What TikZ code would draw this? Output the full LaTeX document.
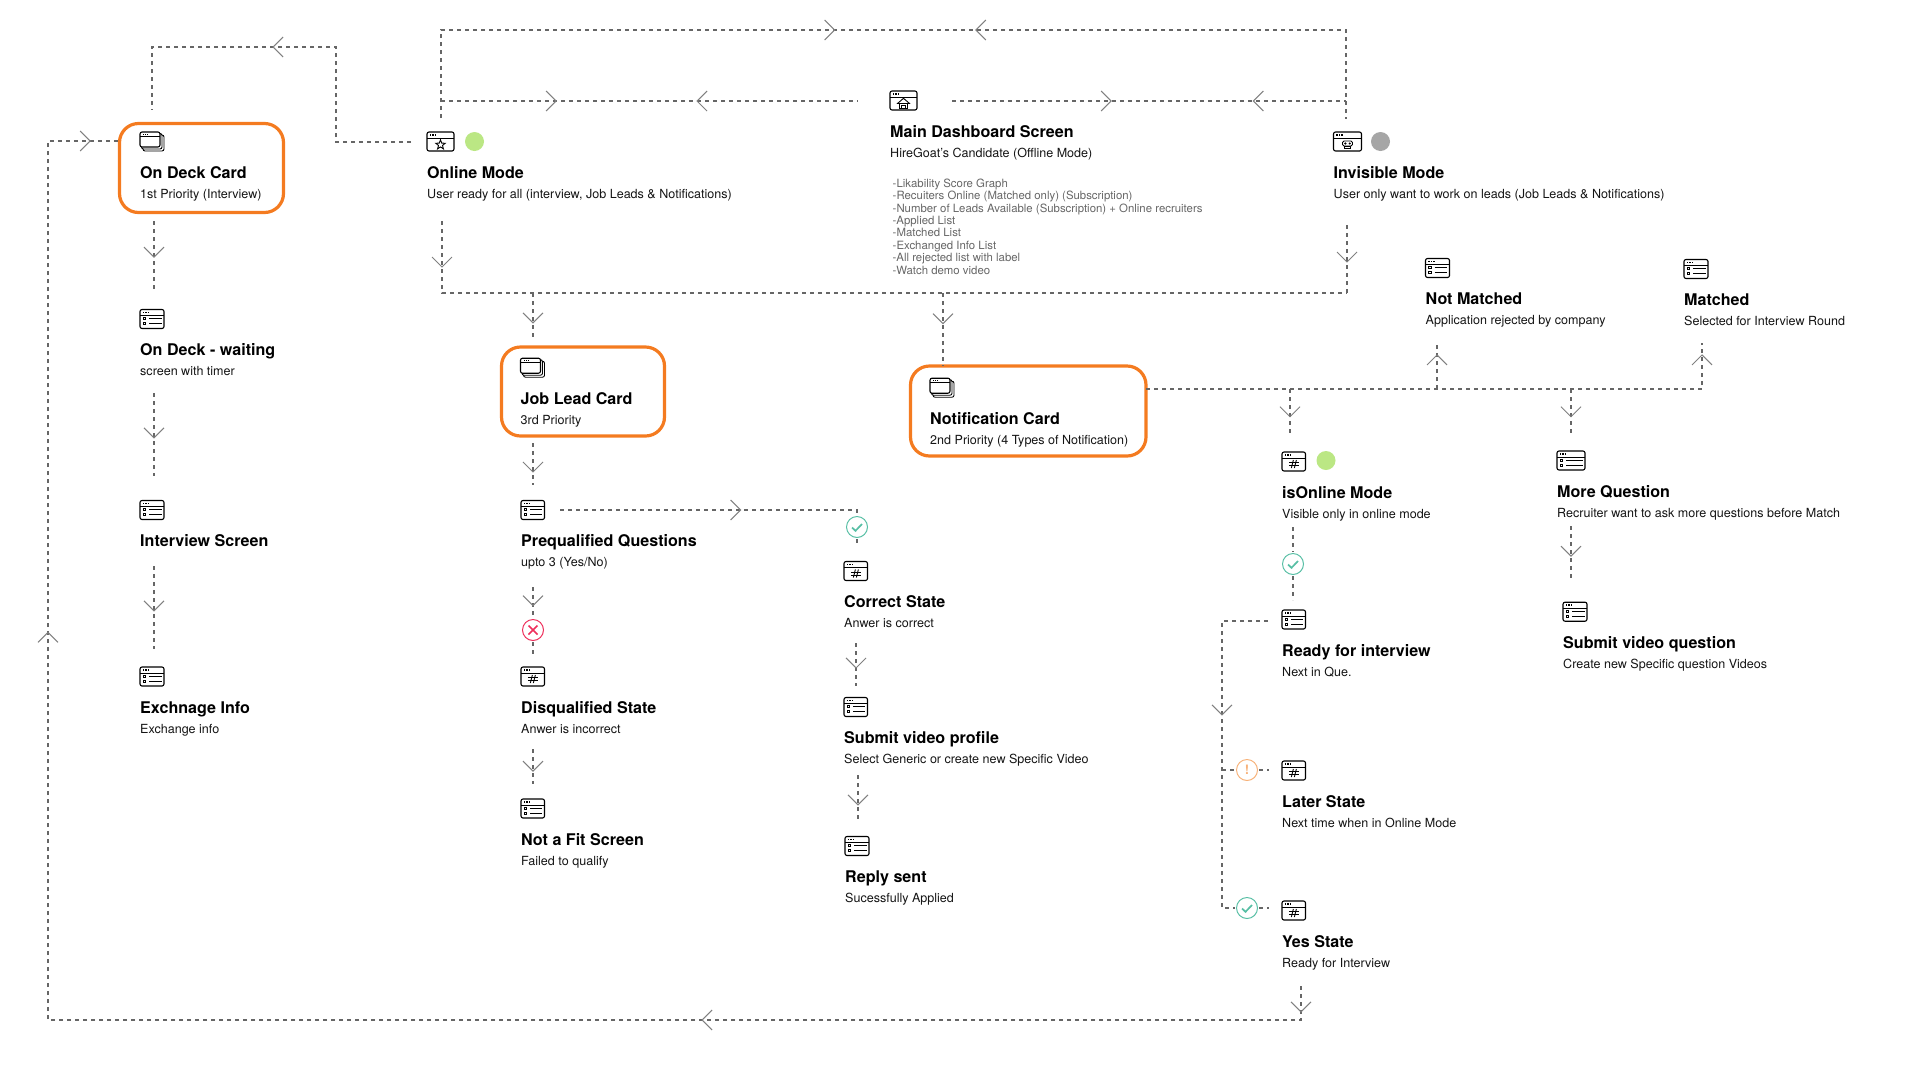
\documentclass[tikz,border=0pt]{standalone}
\usepackage{fontspec}
\setmainfont{TeX Gyre Heros}
\usetikzlibrary{calc}
\definecolor{flowgray}{HTML}{666666}
\definecolor{tipgray}{HTML}{808080}
\definecolor{cardorange}{HTML}{F47B20}
\definecolor{onlinegreen}{HTML}{BBE784}
\definecolor{offgray}{HTML}{A6A6A6}
\definecolor{okteal}{HTML}{58BFA5}
\definecolor{badred}{HTML}{EE2F5B}
\definecolor{warnorange}{HTML}{F7B27A}
\definecolor{notegray}{HTML}{666666}
\tikzset{
  flow/.style={draw=flowgray, line width=1.4pt, dash pattern=on 4pt off 4pt},
  tipline/.style={solid, draw=tipgray, line width=1pt},
  tipat/.style={pos=#1, sloped, allow upside down},
  chevron/.pic={\draw[tipline] (-10,-10) -- (0,0) -- (-10,10);},
  chevronback/.pic={\draw[tipline] (10,-10) -- (0,0) -- (10,10);},
  cardbox/.style={draw=cardorange, line width=3.2pt, rounded corners=19pt, inner sep=0pt, outer sep=0pt, anchor=north west},
  winbox/.style={line width=1.1pt, rounded corners=2pt, minimum height=19pt, inner sep=0pt, outer sep=0pt},
  iconlist/.style={winbox, draw},
  iconhash/.style={winbox, draw},
  iconstar/.style={winbox, draw},
  iconhome/.style={winbox, draw},
  iconskull/.style={winbox, draw},
  iconstack/.style={winbox},
  glyph/.style={line width=.9pt},
  cardtitle/.style={font=\fontsize{16.1}{19}\selectfont\bfseries, text=black, inner sep=0pt, anchor=base west},
  cardsub/.style={font=\fontsize{12.55}{15}\selectfont, text=black!92, inner sep=0pt, anchor=base west},
  notelist/.style={font=\fontsize{11.4}{12.4}\selectfont, text=notegray, inner sep=0pt, anchor=north west, align=left},
  lamp/.style={circle, minimum size=19pt, inner sep=0pt, outer sep=0pt},
  statering/.style={circle, draw, line width=1pt, minimum size=21pt, inner sep=0pt, outer sep=1.5pt},
}
\def\winhead#1{
  \draw[glyph] ($(#1.north west)+(0,6)$) -- ($(#1.north east)+(0,6)$);
  \foreach \d in {2.5,5,7.5} \fill ($(#1.north west)+(\d,2)$) rectangle +(1.6,1.6);
}
\def\glyphlist#1{
  \winhead{#1}
  \draw[glyph] ($(#1.west)+(3.3,-1.5)$) rectangle +(2.6,2.4);
  \draw[glyph] ($(#1.west)+(3.3,3.5)$) rectangle +(2.6,2.4);
  \draw[glyph] ($(#1.west)+(9,-.3)$) -- ($(#1.east)+(-2.5,-.3)$);
  \draw[glyph] ($(#1.west)+(9,4.7)$) -- ($(#1.east)+(-2.5,4.7)$);
}
\def\glyphhash#1{
  \winhead{#1}
  \draw[glyph] ($(#1.center)+(-5,1.4)$) -- +(10,0);
  \draw[glyph] ($(#1.center)+(-5,4)$) -- +(10,0);
  \draw[glyph] ($(#1.center)+(-2.4,6.5)$) -- +(2,-8);
  \draw[glyph] ($(#1.center)+(.6,6.5)$) -- +(2,-8);
}
\def\glyphstar#1{
  \winhead{#1}
  \draw[glyph, shift={($(#1.center)+(0,3.3)$)}] (-90:5) -- (-54:2.1) -- (-18:5) -- (18:2.1) -- (54:5) -- (90:2.1) -- (126:5) -- (162:2.1) -- (198:5) -- (234:2.1) -- cycle;
}
\def\glyphhome#1{
  \winhead{#1}
  \draw[glyph] ($(#1.center)+(-6,3)$) -- ($(#1.center)+(0,-2.2)$) -- ($(#1.center)+(6,3)$) -- cycle;
  \draw[glyph] ($(#1.center)+(-4.2,3)$) rectangle ($(#1.center)+(4.2,8)$);
  \draw[glyph] ($(#1.center)+(-1.6,4.8)$) rectangle ($(#1.center)+(1.6,8)$);
}
\def\glyphskull#1{
  \winhead{#1}
  \draw[glyph, rounded corners=1.5pt] ($(#1.center)+(-5,-.5)$) rectangle ($(#1.center)+(5,4.5)$);
  \draw[glyph] ($(#1.center)+(-3,4.5)$) rectangle ($(#1.center)+(3,7)$);
  \fill ($(#1.center)+(-2.2,2)$) circle (1.2);
  \fill ($(#1.center)+(2.2,2)$) circle (1.2);
}
\def\glyphstack#1{
  \draw[line width=1.1pt, rounded corners=2pt] ($(#1.north west)$) rectangle ($(#1.north west)+(20,15)$);
  \draw[glyph] ($(#1.north west)+(0,4.5)$) -- ($(#1.north west)+(20,4.5)$);
  \foreach \d in {3,5,7} \fill ($(#1.north west)+(\d,2)$) rectangle +(1,1);
  \draw[glyph, rounded corners=2pt] ($(#1.north west)+(20,1.5)$) -- ($(#1.north west)+(22,1.5)$) -- ($(#1.north west)+(22,17)$) -- ($(#1.north west)+(1.5,17)$) -- ($(#1.north west)+(1.5,15)$);
  \draw[glyph, rounded corners=2pt] ($(#1.north west)+(22,3)$) -- ($(#1.north west)+(24,3)$) -- ($(#1.north west)+(24,19)$) -- ($(#1.north west)+(3,19)$) -- ($(#1.north west)+(3,17)$);
}
\def\screen(#1,#2,#3,#4,#5,#6){
  \node[icon#5, minimum width=#4pt, anchor=west] (#1_ic) at (#2,#3) {};
  \csname glyph#5\endcsname{#1_ic}
  \node[cardtitle] (#1_tt) at (#2,#3+36.5) {#6};
}
\def\subline(#1,#2){
  \node[cardsub] (#1_sb) at ($(#1_tt.base west)+(0,20)$) {#2};
}
\def\okmark#1{
  \draw[okteal, line width=1.7pt] ($(#1)+(-5,.5)$) -- ($(#1)+(-1.5,3.8)$) -- ($(#1)+(5,-3)$);
}
\begin{document}
\begin{tikzpicture}[x=1pt,y=-1pt]
\path[use as bounding box] (0,0) rectangle (1920,1080);
\node[cardbox, minimum width=164pt, minimum height=89pt] (deck) at (119.5,123.5) {};
\node[cardbox, minimum width=163pt, minimum height=89pt] (jobcard) at (501.5,347) {};
\node[cardbox, minimum width=235.5pt, minimum height=90pt] (notif) at (910.5,366) {};
\screen(deck,140,141.5,24,stack,On Deck Card)
\subline(deck,{1st Priority (Interview)})
\screen(wait,140,319,24,list,On Deck - waiting)
\subline(wait,screen with timer)
\screen(inter,140,510,24,list,Interview Screen)
\screen(exch,140,676.5,24,list,Exchnage Info)
\subline(exch,Exchange info)
\screen(online,427,141.5,27,star,Online Mode)
\subline(online,{User ready for all (interview, Job Leads \& Notifications)})
\node[lamp, fill=onlinegreen] (online_lamp) at (474.5,141.5) {};
\screen(main,890,100.5,27,home,Main Dashboard Screen)
\subline(main,{HireGoat's Candidate (Offline Mode)})
\node[notelist] (main_notes) at (892.5,178.5) {-Likability Score Graph\\-Recuiters Online (Matched only) (Subscription)\\-Number of Leads Available (Subscription) + Online recruiters\\-Applied List\\-Matched List\\-Exchanged Info List\\-All rejected list with label\\-Watch demo video};
\screen(invis,1333.5,141.5,28,skull,Invisible Mode)
\subline(invis,{User only want to work on leads (Job Leads \& Notifications)})
\node[lamp, fill=offgray] (invis_lamp) at (1380.5,141.5) {};
\screen(jobc,520.5,367.7,24,stack,Job Lead Card)
\subline(jobc,3rd Priority)
\screen(preq,521,510,23.5,list,Prequalified Questions)
\subline(preq,{upto 3 (Yes/No)})
\screen(disq,521,676.5,23.5,hash,Disqualified State)
\subline(disq,Anwer is incorrect)
\screen(nofit,521,808.5,23.5,list,Not a Fit Screen)
\subline(nofit,Failed to qualify)
\screen(corr,844,571,23.5,hash,Correct State)
\subline(corr,Anwer is correct)
\screen(subvid,844,707,23.5,list,Submit video profile)
\subline(subvid,Select Generic or create new Specific Video)
\screen(reply,845,846,24,list,Reply sent)
\subline(reply,Sucessfully Applied)
\screen(ncard,930,387.7,24,stack,Notification Card)
\subline(ncard,{2nd Priority (4 Types of Notification)})
\screen(isol,1282,461.5,23.5,hash,isOnline Mode)
\subline(isol,Visible only in online mode)
\node[lamp, fill=onlinegreen] (isol_lamp) at (1326,460.5) {};
\screen(ready,1282,619.5,23.5,list,Ready for interview)
\subline(ready,Next in Que.)
\screen(later,1282,770.5,23.5,hash,Later State)
\subline(later,Next time when in Online Mode)
\screen(yes,1282,910.5,23.5,hash,Yes State)
\subline(yes,Ready for Interview)
\screen(notm,1425.5,268,24,list,Not Matched)
\subline(notm,Application rejected by company)
\screen(match,1684,269,24,list,Matched)
\subline(match,Selected for Interview Round)
\screen(more,1557,460.5,28,list,More Question)
\subline(more,Recruiter want to ask more questions before Match)
\screen(subq,1563,611.7,24,list,Submit video question)
\subline(subq,Create new Specific question Videos)
\node[statering, draw=okteal] (corr_ok) at (857,527) {};
\okmark{corr_ok}
\node[statering, draw=badred] (disq_no) at (533,630) {};
\draw[badred, line width=1.7pt] ($(disq_no)+(-4.5,-4.5)$) -- ($(disq_no)+(4.5,4.5)$) ($(disq_no)+(-4.5,4.5)$) -- ($(disq_no)+(4.5,-4.5)$);
\node[statering, draw=okteal] (isol_ok) at (1293,564) {};
\okmark{isol_ok}
\node[statering, draw=warnorange, text=warnorange, font=\bfseries\fontsize{13}{13}\selectfont] (later_warn) at (1247,770) {!};
\node[statering, draw=okteal] (yes_ok) at (1247,908) {};
\okmark{yes_ok}
\coordinate (on_w) at (411,142);
\coordinate (on_a) at (336,142);
\coordinate (on_b) at (336,47);
\coordinate (on_c) at (152,47);
\coordinate (on_d) at (152,110);
\draw[flow] (on_w) -- (on_a) -- (on_b) -- (on_c) pic[tipat=.342]{chevron} -- (on_d);
\coordinate (on_up) at (441,118);
\coordinate (top_l) at (441,30);
\coordinate (top_r) at (1346,30);
\coordinate (inv_up) at (1346,119);
\draw[flow] (on_up) -- (top_l) -- (top_r) pic[tipat=.435]{chevron} pic[tipat=.591]{chevronback} -- (inv_up);
\coordinate (mid_l) at (441,101);
\coordinate (mid_a) at (858,101);
\coordinate (mid_b) at (952,101);
\coordinate (mid_r) at (1346,101);
\draw[flow] (mid_l) -- (mid_a) pic[tipat=.276]{chevron} pic[tipat=.614]{chevronback};
\draw[flow] (mid_b) -- (mid_r) pic[tipat=.404]{chevron} pic[tipat=.765]{chevronback};
\coordinate (on_dn) at (442,221);
\coordinate (low_l) at (442,293);
\coordinate (low_r) at (1347,293);
\coordinate (inv_dn) at (1347,225);
\draw[flow] (on_dn) -- (low_l) pic[tipat=.639]{chevron} -- (low_r);
\draw[flow] (inv_dn) -- (low_r) pic[tipat=.544]{chevron};
\coordinate (job_a) at (533,293);
\coordinate (job_b) at (533,339);
\draw[flow] (job_a) -- (job_b) pic[tipat=.65]{chevron};
\coordinate (not_a) at (943,293);
\draw[flow] (not_a) -- (not_a |- notif.north) pic[tipat=.42]{chevron};
\coordinate (deck_a) at (154,221);
\coordinate (deck_b) at (154,289);
\draw[flow] (deck_a) -- (deck_b) pic[tipat=.53]{chevron};
\coordinate (wait_a) at (154,393);
\coordinate (wait_b) at (154,476);
\draw[flow] (wait_a) -- (wait_b) pic[tipat=.54]{chevron};
\coordinate (inter_a) at (154,566);
\coordinate (inter_b) at (154,649);
\draw[flow] (inter_a) -- (inter_b) pic[tipat=.54]{chevron};
\coordinate (job_c) at (533,443);
\coordinate (job_d) at (533,485);
\draw[flow] (job_c) -- (job_d) pic[tipat=.69]{chevron};
\coordinate (preq_e) at (560,510);
\coordinate (preq_f) at (857,510);
\draw[flow] (preq_e) -- (preq_f) pic[tipat=.608]{chevron} -- (corr_ok);
\coordinate (corr_i) at (857,545);
\draw[flow] (corr_ok) -- (corr_i);
\coordinate (preq_a) at (533,587);
\draw[flow] (preq_a) -- (disq_no) pic[tipat=.6]{chevron};
\coordinate (disq_i) at (533,654);
\draw[flow] (disq_no) -- (disq_i);
\coordinate (disq_a) at (533,749);
\coordinate (disq_b) at (533,784);
\draw[flow] (disq_a) -- (disq_b) pic[tipat=.63]{chevron};
\coordinate (corr_a) at (856,643);
\coordinate (corr_b) at (856,686);
\draw[flow] (corr_a) -- (corr_b) pic[tipat=.58]{chevron};
\coordinate (sub_a) at (858,775);
\coordinate (sub_b) at (858,819);
\draw[flow] (sub_a) -- (sub_b) pic[tipat=.68]{chevron};
\coordinate (nr_a) at (1702,389);
\coordinate (nr_b) at (1702,343);
\coordinate (nm_a) at (1437,389);
\coordinate (nm_b) at (1437,343);
\draw[flow] (nm_a -| notif.east) -- (nr_a) -- (nr_b) pic[tipat=.74]{chevron};
\draw[flow] (nm_a) -- (nm_b) pic[tipat=.74]{chevron};
\coordinate (isol_a) at (1290,389);
\coordinate (isol_b) at (1290,433);
\draw[flow] (isol_a) -- (isol_b) pic[tipat=.63]{chevron};
\coordinate (more_a) at (1571,389);
\coordinate (more_b) at (1571,433);
\draw[flow] (more_a) -- (more_b) pic[tipat=.63]{chevron};
\coordinate (more_c) at (1571,526);
\coordinate (more_d) at (1571,578);
\draw[flow] (more_c) -- (more_d) pic[tipat=.58]{chevron};
\coordinate (isol_c) at (1293,527);
\coordinate (isol_d) at (1293,600);
\draw[flow] (isol_c) -- (isol_ok);
\draw[flow] (isol_ok) -- (isol_d);
\coordinate (ready_o) at (1268,621);
\coordinate (ready_c) at (1222,621);
\coordinate (ready_t) at (1222,770);
\coordinate (ready_b) at (1222,908);
\draw[flow] (ready_o) -- (ready_c) -- (ready_t) pic[tipat=.63]{chevron} -- (ready_b) -- (yes_ok);
\draw[flow] (ready_t) -- (later_warn);
\coordinate (later_o) at (1269,770);
\coordinate (yes_o) at (1269,908);
\draw[flow] (later_warn) -- (later_o);
\draw[flow] (yes_ok) -- (yes_o);
\coordinate (back_s) at (1301,986);
\coordinate (back_a) at (1301,1020);
\coordinate (back_b) at (48,1020);
\coordinate (back_c) at (48,141);
\draw[flow] (back_s) -- (back_a) pic[tipat=.76]{chevron} -- (back_b) pic[tipat=.478]{chevron} -- (back_c) pic[tipat=.441]{chevron} -- (back_c -| deck.west) pic[tipat=.589]{chevron};
\end{tikzpicture}
\end{document}
